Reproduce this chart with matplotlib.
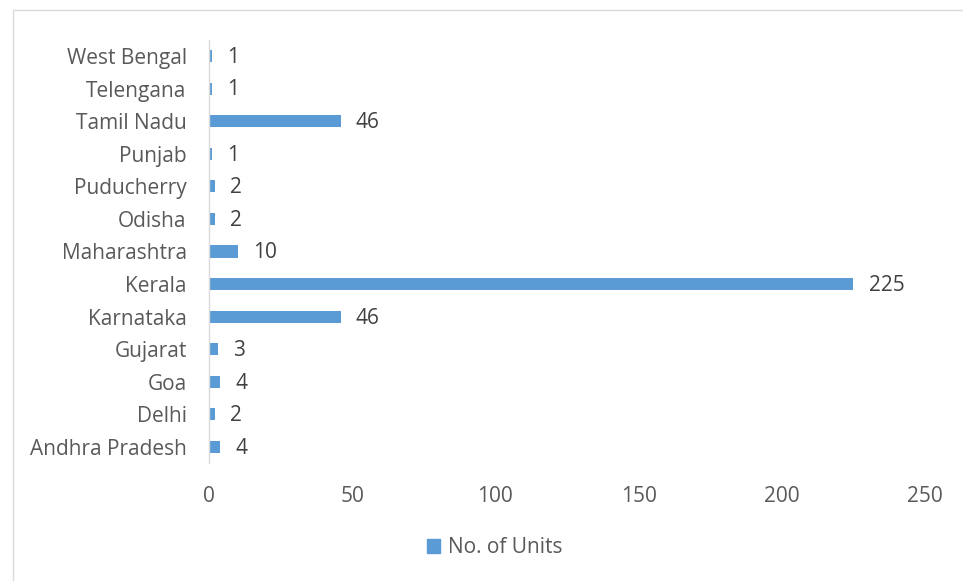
import matplotlib
matplotlib.use("Agg")
import matplotlib.pyplot as plt
from matplotlib.patches import Rectangle, Patch

states = ["Andhra Pradesh", "Delhi", "Goa", "Gujarat", "Karnataka", "Kerala",
          "Maharashtra", "Odisha", "Puducherry", "Punjab", "Tamil Nadu",
          "Telengana", "West Bengal"]
units = [4, 2, 4, 3, 46, 225, 10, 2, 2, 1, 46, 1, 1]
xticks = [0, 50, 100, 150, 200, 250]
series_name = "No. of Units"

plt.rcParams['font.family'] = ['Open Sans', 'DejaVu Sans']
txt = '#595959'
bar_c = '#5B9BD5'
fs = 15

fig = plt.figure(figsize=(9.63, 5.81), dpi=100)
ax = fig.add_axes([0.217, 0.2026, 0.7435, 0.7291])

pos = list(range(len(states)))
ax.barh(pos, units, height=0.37, color=bar_c)
ax.set_ylim(-0.5, len(states) - 0.5)
ax.set_xlim(0, 250)
ax.set_yticks(pos)
ax.set_yticklabels(states, fontsize=fs, color=txt)
ax.set_xticks(xticks)
ax.set_xticklabels([str(t) for t in xticks], fontsize=fs, color=txt)
ax.tick_params(axis='y', length=0, pad=16)
ax.tick_params(axis='x', length=0, pad=16)
for s in ['top', 'right', 'bottom']:
    ax.spines[s].set_visible(False)
ax.spines['left'].set_color('#D9D9D9')
ax.spines['left'].set_linewidth(1.0)

for p, v in zip(pos, units):
    ax.annotate(str(v), (v, p), xytext=(11, -1), textcoords='offset points',
                va='center', ha='left', fontsize=fs, color='#404040')

fig.legend(handles=[Patch(color=bar_c, label=series_name)], loc='center',
           bbox_to_anchor=(0.514, 0.057), frameon=False, fontsize=fs,
           handlelength=0.6, handleheight=0.6, handletextpad=0.4,
           labelcolor=txt)

fig.patches.append(Rectangle((13 / 963, -0.05), 1.0, 1 - 10 / 581 + 0.05,
                             transform=fig.transFigure, fill=False,
                             edgecolor='#D9D9D9', linewidth=1.0))

fig.savefig('out.png', dpi=100)
